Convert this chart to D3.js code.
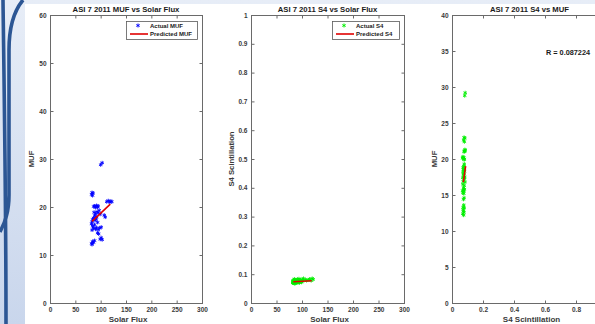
<!DOCTYPE html>
<html>
<head>
<meta charset="utf-8">
<script src="https://cdn.jsdelivr.net/npm/d3@7"></script>
<style>
  body { margin: 0; background: #fff; }
  svg { display: block; font-family: "Liberation Sans", Arial, sans-serif; }
</style>
</head>
<body>
<div id="chart"></div>
<script>
// ASI 7, 2011 daily samples
const solarFlux = [100, 103, 82, 83, 84, 85, 88, 90, 92, 94, 95, 86, 112, 115, 118, 120, 122,
  90, 93, 95, 97, 88, 86, 84, 89, 92, 99, 107, 109, 83, 82, 84, 86, 83, 88, 90, 92, 95, 98, 101,
  96, 94, 99, 101, 103, 82, 84, 86, 88, 83, 91, 87, 94];
const muf = [28.8, 29.2, 22.6, 23.0, 22.4, 22.9, 20.2, 19.9, 20.3, 20.0, 20.2, 20.1, 21.1, 21.3, 21.0, 21.2, 21.1,
  18.6, 19.0, 18.8, 19.3, 18.2, 17.7, 17.4, 17.2, 17.9, 18.5, 18.3, 17.9, 16.9, 16.5, 16.0, 15.6, 15.2, 16.3, 15.4, 15.7, 15.3, 15.6, 15.8,
  14.4, 14.6, 13.3, 13.6, 13.2, 12.4, 12.8, 12.6, 13.0, 12.2, 17.5, 18.9, 16.8];
const s4 = [0.082, 0.085, 0.075, 0.078, 0.080, 0.083, 0.072, 0.078, 0.070, 0.080, 0.076, 0.068, 0.080, 0.083, 0.078, 0.085, 0.082,
  0.074, 0.077, 0.072, 0.079, 0.071, 0.075, 0.069, 0.080, 0.073, 0.076, 0.081, 0.078, 0.072, 0.070, 0.074, 0.068, 0.076, 0.079, 0.073, 0.077, 0.071, 0.075, 0.080,
  0.074, 0.078, 0.072, 0.076, 0.079, 0.070, 0.074, 0.077, 0.072, 0.075, 0.082, 0.076, 0.084];

// fitted lines (end points)
const fitFluxMUF = [83, 119];
const fitMUF = [17.0, 20.6];
const fitFluxS4 = [83, 119];
const fitS4 = [0.074, 0.077];
const fitS4x = [0.073, 0.088];
const fitMUFy = [16.8, 19.0];

const fluxTicks = [0, 50, 100, 150, 200, 250, 300];
const mufTicks60 = [0, 10, 20, 30, 40, 50, 60];
const s4Ticks = [0, 0.1, 0.2, 0.3, 0.4, 0.5, 0.6, 0.7, 0.8, 0.9, 1];
const mufTicks40 = [0, 5, 10, 15, 20, 25, 30, 35, 40];
const s4xTicks = [0, 0.2, 0.4, 0.6, 0.8];

const width = 595, height = 324;
const svg = d3.select('#chart').append('svg').attr('width', width).attr('height', height);

// slide background bits behind the figure
const grad = svg.append('defs').append('linearGradient').attr('id', 'side')
  .attr('x1', 0).attr('y1', 0).attr('x2', 0).attr('y2', 1);
grad.append('stop').attr('offset', 0).attr('stop-color', '#e7edf7');
grad.append('stop').attr('offset', 1).attr('stop-color', '#c9d6ec');
svg.append('rect').attr('width', width).attr('height', height).attr('fill', 'url(#side)');
svg.append('rect').attr('x', 25).attr('y', 4).attr('width', width - 25).attr('height', height - 4).attr('fill', '#fff');
svg.append('path').attr('d', 'M3,0 C4,80 6,200 6,324')
  .attr('fill', 'none').attr('stroke', '#2c5694').attr('stroke-width', 3.6);
svg.append('path').attr('d', 'M23,0 C13,12 9,28 9,50 L9,195 C9,212 5,222 0,232')
  .attr('fill', 'none').attr('stroke', '#2c5694').attr('stroke-width', 3.6);

const plotTop = 15, plotBottom = 303;
const axisColor = '#6a6a6a';
const star = d3.symbol().type(d3.symbolAsterisk || d3.symbolCross).size(11);

function panel({ x0, x1, xDomain, yDomain, xTicks, yTicks, title, xLabel, yLabel, yLabelX, pts, color, fit }) {
  const x = d3.scaleLinear().domain(xDomain).range([x0, x1]);
  const y = d3.scaleLinear().domain(yDomain).range([plotBottom, plotTop]);
  const g = svg.append('g');
  const fmt = d => String(d);

  const styleAxis = sel => {
    sel.select('.domain').remove();
    sel.selectAll('line').attr('stroke', axisColor);
    sel.selectAll('text').attr('fill', '#3a3a3a').attr('font-size', 6.5).attr('font-weight', 'bold')
      .attr('font-family', '"Liberation Sans", Arial, sans-serif');
  };

  g.append('g').attr('transform', `translate(0,${plotBottom + 0.5})`)
    .call(d3.axisBottom(x).tickValues(xTicks).tickFormat(fmt).tickSizeInner(-3).tickSizeOuter(0).tickPadding(4))
    .call(styleAxis);
  g.append('g').attr('transform', `translate(0,${plotTop + 0.5})`)
    .call(d3.axisTop(x).tickValues(xTicks).tickFormat('').tickSizeInner(-3).tickSizeOuter(0))
    .call(styleAxis);
  g.append('g').attr('transform', `translate(${x0 + 0.5},0)`)
    .call(d3.axisLeft(y).tickValues(yTicks).tickFormat(fmt).tickSizeInner(-3).tickSizeOuter(0).tickPadding(4))
    .call(styleAxis);
  g.append('g').attr('transform', `translate(${x1 + 0.5},0)`)
    .call(d3.axisRight(y).tickValues(yTicks).tickFormat('').tickSizeInner(-3).tickSizeOuter(0))
    .call(styleAxis);

  g.append('rect').attr('x', x0 + 0.5).attr('y', plotTop + 0.5)
    .attr('width', x1 - x0).attr('height', plotBottom - plotTop)
    .attr('fill', 'none').attr('stroke', axisColor).attr('stroke-width', 1);

  g.append('g').selectAll('path').data(pts).join('path')
    .attr('transform', d => `translate(${x(d[0])},${y(d[1])})`)
    .attr('d', star).attr('fill', 'none').attr('stroke', color).attr('stroke-width', 0.9);

  g.append('path').datum(fit)
    .attr('d', d3.line().x(d => x(d[0])).y(d => y(d[1])))
    .attr('stroke', '#e00000').attr('stroke-width', 1.6).attr('fill', 'none');

  g.append('text').attr('x', (x0 + x1) / 2).attr('y', 12)
    .attr('text-anchor', 'middle').attr('font-size', 7.7).attr('font-weight', 'bold')
    .attr('fill', '#1a1a1a').text(title);
  g.append('text').attr('x', (x0 + x1) / 2 + 2).attr('y', 322)
    .attr('text-anchor', 'middle').attr('font-size', 8).attr('font-weight', 'bold')
    .attr('fill', '#3a3a3a').text(xLabel);
  g.append('text').attr('transform', `translate(${yLabelX},${(plotTop + plotBottom) / 2}) rotate(-90)`)
    .attr('text-anchor', 'middle').attr('font-size', 7.7).attr('font-weight', 'bold')
    .attr('fill', '#3a3a3a').text(yLabel);
  return g;
}

function legend(g, { bx, bw, color, actual, predicted }) {
  const by = 21, bh = 18;
  g.append('rect').attr('x', bx + 0.5).attr('y', by + 0.5).attr('width', bw).attr('height', bh)
    .attr('fill', '#fff').attr('stroke', '#5a5a5a').attr('stroke-width', 0.8);
  g.append('path').attr('transform', `translate(${bx + 12},${by + 4.5})`)
    .attr('d', star).attr('fill', 'none').attr('stroke', color).attr('stroke-width', 0.9);
  g.append('line').attr('x1', bx + 4).attr('x2', bx + 22).attr('y1', by + 13).attr('y2', by + 13)
    .attr('stroke', '#e00000').attr('stroke-width', 1.6);
  g.append('text').attr('x', bx + 24).attr('y', by + 6.8).attr('font-size', 6).attr('font-weight', 'bold')
    .attr('fill', '#1a1a1a').text(actual);
  g.append('text').attr('x', bx + 24).attr('y', by + 15.3).attr('font-size', 6).attr('font-weight', 'bold')
    .attr('fill', '#1a1a1a').text(predicted);
}

const p1 = panel({
  x0: 50, x1: 202, xDomain: [0, 300], yDomain: [0, 60], xTicks: fluxTicks, yTicks: mufTicks60,
  title: 'ASI 7 2011 MUF vs Solar Flux', xLabel: 'Solar Flux', yLabel: 'MUF', yLabelX: 34,
  pts: solarFlux.map((f, i) => [f, muf[i]]), color: '#0000ff',
  fit: fitFluxMUF.map((f, i) => [f, fitMUF[i]])
});
legend(p1, { bx: 126, bw: 71, color: '#0000ff', actual: 'Actual MUF', predicted: 'Predicted MUF' });

const p2 = panel({
  x0: 251, x1: 404, xDomain: [0, 300], yDomain: [0, 1], xTicks: fluxTicks, yTicks: s4Ticks,
  title: 'ASI 7 2011 S4 vs Solar Flux', xLabel: 'Solar Flux', yLabel: 'S4 Scintillation', yLabelX: 234,
  pts: solarFlux.map((f, i) => [f, s4[i]]), color: '#00ee00',
  fit: fitFluxS4.map((f, i) => [f, fitS4[i]])
});
legend(p2, { bx: 332, bw: 67, color: '#00ee00', actual: 'Actual S4', predicted: 'Predicted S4' });

const p3 = panel({
  x0: 452, x1: 607, xDomain: [0, 1], yDomain: [0, 40], xTicks: s4xTicks, yTicks: mufTicks40,
  title: 'ASI 7 2011 S4 vs MUF', xLabel: 'S4 Scintillation', yLabel: 'MUF', yLabelX: 437,
  pts: s4.map((v, i) => [v, muf[i]]), color: '#00ee00',
  fit: fitS4x.map((v, i) => [v, fitMUFy[i]])
});
p3.append('text').attr('x', 546).attr('y', 55).attr('font-size', 7.3).attr('font-weight', 'bold')
  .attr('fill', '#1a1a1a').text('R = 0.087224');
</script>
</body>
</html>
